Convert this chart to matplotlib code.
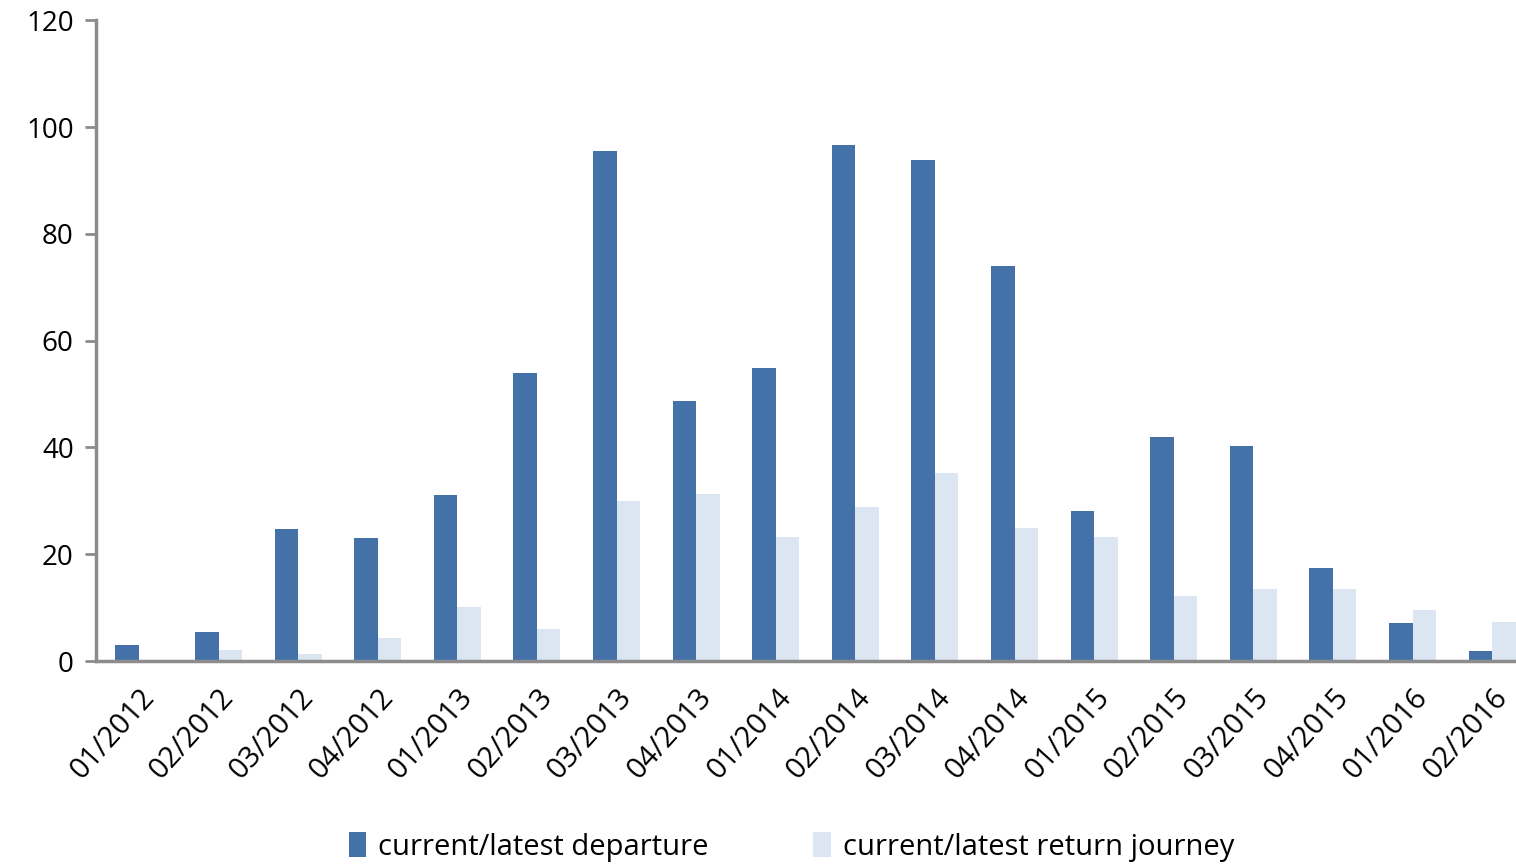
import matplotlib
matplotlib.use("Agg")
import matplotlib.pyplot as plt
import numpy as np

plt.rcParams['font.family'] = ['Open Sans', 'DejaVu Sans']

quarters = ["01/2012", "02/2012", "03/2012", "04/2012",
            "01/2013", "02/2013", "03/2013", "04/2013",
            "01/2014", "02/2014", "03/2014", "04/2014",
            "01/2015", "02/2015", "03/2015", "04/2015",
            "01/2016", "02/2016"]
departure = [3.0, 5.4, 24.7, 23.0, 31.1, 53.9, 95.5, 48.7, 54.9,
             96.6, 93.8, 74.0, 28.1, 41.9, 40.3, 17.4, 7.1, 1.9]
return_journey = [0.0, 2.0, 1.3, 4.3, 10.1, 6.0, 30.0, 31.3, 23.2,
                  28.8, 35.2, 24.9, 23.2, 12.2, 13.5, 13.5, 9.6, 7.3]
series_labels = ["current/latest departure", "current/latest return journey"]

dark = "#4472A8"
light = "#DCE6F2"
axis_grey = "#8C8C8C"

fig = plt.figure(figsize=(15.16, 8.67), dpi=100)
ax = fig.add_axes([0.0633, 0.2376, 0.9367, 0.7388])

x = np.arange(len(quarters))
w = 0.295
ax.bar(x - w / 2, departure, width=w, color=dark, label=series_labels[0])
ax.bar(x + w / 2, return_journey, width=w, color=light, label=series_labels[1])

ax.set_xlim(-0.54, 17.3)
ax.set_ylim(0, 120)
ax.set_yticks(range(0, 121, 20))
ax.set_xticks(x)
ax.set_xticklabels(quarters, rotation=48, ha="right", va="top",
                   rotation_mode="anchor", fontsize=21)
ax.tick_params(axis="x", length=0, pad=16)
ax.tick_params(axis="y", length=8, width=2, color=axis_grey, labelsize=20, pad=8)

for side in ("top", "right"):
    ax.spines[side].set_visible(False)
for side in ("left", "bottom"):
    ax.spines[side].set_color(axis_grey)
    ax.spines[side].set_linewidth(2.5)

fig.legend(loc="lower center", bbox_to_anchor=(0.522, -0.024), ncol=2,
           frameon=False, fontsize=21, handlelength=0.6, handleheight=0.9,
           handletextpad=0.4, columnspacing=3.6)

fig.savefig("out.png", dpi=100)
